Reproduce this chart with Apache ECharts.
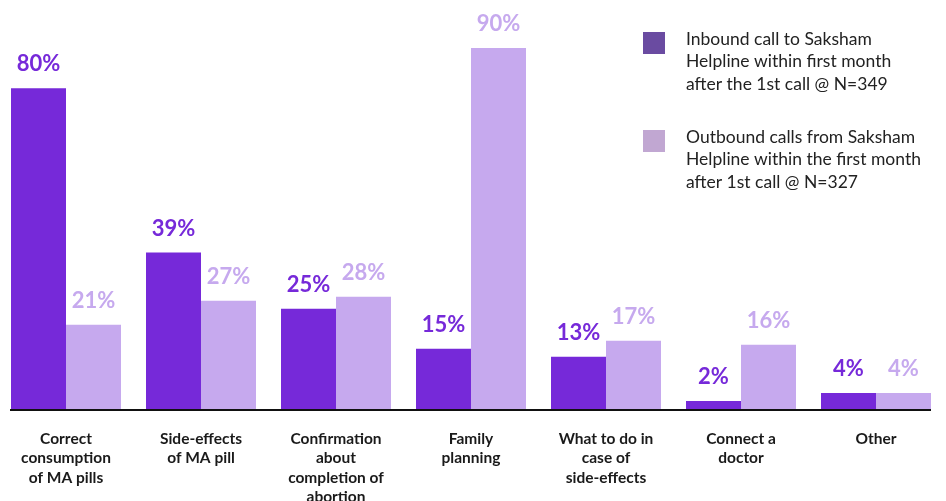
<!DOCTYPE html>
<html><head><meta charset="utf-8">
<script src="https://cdn.jsdelivr.net/npm/echarts@6/dist/echarts.min.js"></script>
<style>html,body{margin:0;padding:0;background:#fff}#c{width:946px;height:501px}</style>
</head><body><div id="c"></div>
<script>
var categories = ["Correct\nconsumption\nof MA pills","Side-effects\nof MA pill","Confirmation\nabout\ncompletion of\nabortion","Family\nplanning","What to do in\ncase of\nside-effects","Connect a\ndoctor","Other"];
var inboundValues = [80, 39, 25, 15, 13, 2, 4];
var outboundValues = [21, 27, 28, 90, 17, 16, 4];
var inboundName = "Inbound call to Saksham\nHelpline within first month\nafter the 1st call @ N=349";
var outboundName = "Outbound calls from Saksham\nHelpline within the first month\nafter 1st call @ N=327";

var FONT = "Lato";
var chart = echarts.init(document.getElementById('c'), null, {renderer:'canvas'});
var legendText = {fontFamily:FONT, fontSize:17.5, color:'#222', lineHeight:22.5, padding:[0,0,0,16],
  rich:{b:{fontFamily:FONT, fontSize:10, lineHeight:18.5}, t:{fontFamily:FONT, fontSize:17.5, color:'#222', lineHeight:22.5}}};
function legendFmt(n){ return '{b| }\n{b| }\n' + n.split('\n').map(function(l){return '{t|' + l + '}';}).join('\n'); }
var option = {
  animation:false,
  grid:{left:-1.5, width:945, top:8, bottom:92, containLabel:false, outerBoundsMode:'none'},
  legend:[
    {orient:'vertical', left:643, top:43-52.25, padding:0, itemWidth:22, itemHeight:22, icon:'rect', formatter:legendFmt,
     data:[{name:inboundName, itemStyle:{color:'#6a4ba1'}}], textStyle:legendText, selectedMode:false},
    {orient:'vertical', left:643, top:141-52.25, padding:0, itemWidth:22, itemHeight:22, icon:'rect', formatter:legendFmt,
     data:[{name:outboundName, itemStyle:{color:'#c1a7d2'}}], textStyle:legendText, selectedMode:false}
  ],
  xAxis:{type:'category', data:categories, axisLine:{show:false}, axisTick:{show:false},
    axisLabel:{interval:0, margin:20, fontFamily:FONT, fontSize:15.5, fontWeight:'bold', color:'#1a1a1a', lineHeight:19.5, verticalAlign:'top'}},
  yAxis:{type:'value', min:0, max:100, show:false, splitLine:{show:false}},
  series:[
    {name:inboundName, type:'bar', data:inboundValues, barWidth:55, barGap:'0%', itemStyle:{color:'#7629d9'},
     label:{show:true, position:'top', distance:13, formatter:'{c}%', fontFamily:FONT, fontSize:22, fontWeight:'bold', color:'#7629d9'}},
    {name:outboundName, type:'bar', data:outboundValues, barWidth:55, barGap:'0%', itemStyle:{color:'#c6a9ee'},
     label:{show:true, position:'top', distance:13, formatter:'{c}%', fontFamily:FONT, fontSize:22, fontWeight:'bold', color:'#c6a9ee'}}
  ]
};
chart.setOption(option);
var p0 = chart.convertToPixel({gridIndex:0}, [0, 0]);
var p1 = chart.convertToPixel({gridIndex:0}, [categories.length-1, 0]);
chart.setOption({graphic:[{type:'line', shape:{x1:p0[0]-56, y1:p0[1]+1, x2:p1[0]+55, y2:p1[1]+1}, style:{stroke:'#111', lineWidth:2}, z:10}]});
</script></body></html>
